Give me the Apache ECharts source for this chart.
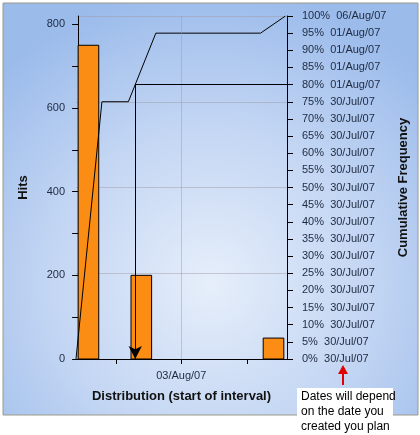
<!DOCTYPE html>
<html>
<head>
<meta charset="utf-8">
<script src="https://cdn.jsdelivr.net/npm/echarts@6/dist/echarts.min.js"></script>
<style>
  html, body { margin: 0; background: #fff; }
  #chart { width: 420px; height: 435px; }
</style>
</head>
<body>
<div id="chart"></div>
<script>
// x values are days counted from 30/Jul/07
var intervalDays = [0, 2, 7];
var intervalDates = ['30/Jul/07', '01/Aug/07', '06/Aug/07'];
var hits = [750, 200, 50];

// cumulative frequency line
var cumDays = [-0.08, 0.9, 1.9, 2.94, 6.9, 7.84];
var cumPct = [0, 75, 75, 95, 95, 100];

// tick labels
var hitTicks = [0, 100, 200, 300, 400, 500, 600, 700, 800];
var hitLabels = [0, 200, 400, 600, 800];
var pctDates = [
  '30/Jul/07', '30/Jul/07', '30/Jul/07', '30/Jul/07', '30/Jul/07', '30/Jul/07',
  '30/Jul/07', '30/Jul/07', '30/Jul/07', '30/Jul/07', '30/Jul/07', '30/Jul/07',
  '30/Jul/07', '30/Jul/07', '30/Jul/07', '30/Jul/07',
  '01/Aug/07', '01/Aug/07', '01/Aug/07', '01/Aug/07',
  '06/Aug/07'
];
var xTickDays = [1.45, 3.9, 6.4];
var xLabelDays = [3.9];
var xLabelText = ['03/Aug/07'];

// 80% cut marker
var cutPct = 80;
var cutDay = 2.16;

var xMin = -0.08, xMax = 7.9;
var barSpan = 0.78;
var font = 'Liberation Sans, Arial, sans-serif';

var chart = echarts.init(document.getElementById('chart'));

var option = {
  animation: false,
  backgroundColor: '#fff',
  textStyle: { fontFamily: font },
  grid: { left: 76, right: 133, top: 16, bottom: 76 },
  graphic: [
    {
      type: 'rect', z: -10, silent: true,
      shape: { x: 3, y: 3, width: 415, height: 412 },
      style: {
        stroke: '#9a9a8c', lineWidth: 1,
        fill: new echarts.graphic.RadialGradient(0.5, 0.68, 0.72, [
          { offset: 0, color: '#e6eefa' },
          { offset: 0.55, color: '#c2d5f3' },
          { offset: 1, color: '#9bbbeb' }
        ])
      }
    },
    {
      type: 'polyline', z: 100, silent: true,
      shape: { points: [[343, 385], [343, 372]] },
      style: { stroke: '#e00000', lineWidth: 2 }
    },
    {
      type: 'polygon', z: 100, silent: true,
      shape: { points: [[338, 374], [343, 365], [348, 374]] },
      style: { fill: '#e00000' }
    },
    {
      type: 'rect', z: 100, silent: true,
      shape: { x: 297, y: 388, width: 96, height: 45 },
      style: { fill: '#fff' }
    },
    {
      type: 'text', z: 101, silent: true, left: 301, top: 389,
      style: {
        text: 'Dates will depend\non the date you\ncreated you plan',
        fill: '#000', font: '12px ' + font, lineHeight: 15
      }
    }
  ],
  xAxis: [{
    type: 'value', min: xMin, max: xMax,
    name: 'Distribution (start of interval)',
    nameLocation: 'middle', nameGap: 31,
    nameTextStyle: { fontWeight: 'bold', fontSize: 13, color: '#111' },
    axisLine: { show: true, lineStyle: { color: '#000' } },
    axisTick: { show: true, customValues: xTickDays, length: 5, lineStyle: { color: '#000' } },
    axisLabel: {
      customValues: xLabelDays, margin: 11, fontSize: 11, color: '#1e2a40',
      formatter: function (v) {
        var i = xLabelDays.indexOf(v);
        return i >= 0 ? xLabelText[i] : '';
      }
    },
    splitLine: { show: false }
  }],
  yAxis: [
    {
      type: 'value', min: 0, max: 820, position: 'left',
      name: 'Hits', nameLocation: 'middle', nameGap: 46, nameRotate: 90,
      nameTextStyle: { fontWeight: 'bold', fontSize: 13, color: '#111' },
      axisLine: { show: true, lineStyle: { color: '#000' } },
      axisTick: { show: true, customValues: hitTicks, length: 6, lineStyle: { color: '#000' } },
      axisLabel: { customValues: hitLabels, margin: 11, fontSize: 11, color: '#1e2a40' },
      splitLine: { show: false }
    },
    {
      type: 'value', min: 0, max: 100, interval: 5, position: 'right',
      name: 'Cumulative Frequency', nameLocation: 'middle', nameGap: 100, nameRotate: 90,
      nameTextStyle: { fontWeight: 'bold', fontSize: 13, color: '#111' },
      axisLine: { show: true, lineStyle: { color: '#000' } },
      axisTick: { show: true, length: 6, lineStyle: { color: '#000' } },
      axisLabel: {
        margin: 15, fontSize: 11, color: '#1e2a40',
        formatter: function (v, idx) { return v + '%  ' + pctDates[idx]; }
      },
      splitLine: { show: false }
    },
    {
      // gridlines only, every 200 hits
      type: 'value', min: 0, max: 800, interval: 200, position: 'left',
      show: true,
      axisLine: { show: false }, axisTick: { show: false }, axisLabel: { show: false },
      splitLine: { show: true, lineStyle: { color: 'rgba(160,150,160,0.45)', width: 1 } }
    }
  ],
  series: [
    {
      type: 'custom', name: 'Hits', xAxisIndex: 0, yAxisIndex: 0,
      encode: { x: 0, y: 1 },
      data: intervalDays.map(function (d, i) { return [d, hits[i], intervalDates[i]]; }),
      renderItem: function (params, api) {
        var start = api.value(0);
        var top = api.coord([start, api.value(1)]);
        var base = api.coord([start + barSpan, 0]);
        return {
          type: 'rect',
          shape: { x: top[0], y: top[1], width: base[0] - top[0], height: base[1] - top[1] },
          style: { fill: '#fb8c14', stroke: '#000', lineWidth: 1 }
        };
      },
      z: 3
    },
    {
      type: 'line', name: 'Cumulative Frequency', xAxisIndex: 0, yAxisIndex: 1,
      data: cumDays.map(function (d, i) { return [d, cumPct[i]]; }),
      showSymbol: false, symbol: 'none',
      lineStyle: { color: '#000', width: 1 },
      z: 4,
      markLine: {
        silent: true,
        symbol: ['none', 'none'],
        label: { show: false },
        lineStyle: { color: '#000', width: 1, type: 'solid' },
        data: [
          [{ coord: [xLabelDays[0], 0], lineStyle: { color: 'rgba(160,150,160,0.45)' } },
           { coord: [xLabelDays[0], 100] }],
          [{ coord: [cutDay, cutPct] }, { coord: [xMax, cutPct] }],
          [{ coord: [cutDay, cutPct] }, { coord: [cutDay, 0], symbol: 'arrow', symbolSize: [10, 13] }]
        ]
      }
    }
  ]
};

chart.setOption(option);
</script>
</body>
</html>
